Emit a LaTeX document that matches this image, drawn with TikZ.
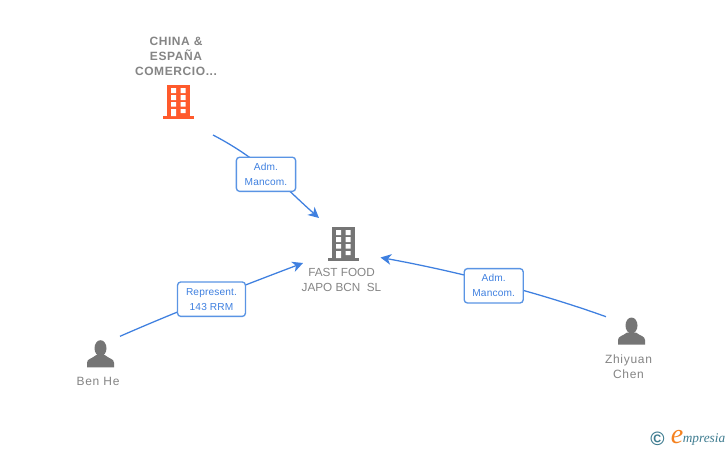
\documentclass[tikz,border=0pt]{standalone}
\usepackage{fontspec}
\setmainfont{Liberation Sans}
\newfontfamily\logofont{Liberation Serif}
\usetikzlibrary{arrows.meta}
\definecolor{linkblue}{HTML}{3F80E0}
\definecolor{boxblue}{HTML}{5A94E4}
\definecolor{labelblue}{HTML}{3F80E0}
\definecolor{iconcol}{HTML}{757575}
\definecolor{namecol}{HTML}{858585}
\definecolor{orangecol}{HTML}{FF5A2C}
\definecolor{teal}{HTML}{3E7C90}
\definecolor{logoorange}{HTML}{F58220}
\tikzset{
  link/.style={draw=linkblue,line width=0.95pt},
  linkarrow/.style={link,-{Stealth[length=8pt,width=8pt,inset=2.4pt]}},
  rolebox/.style={draw=boxblue,line width=1pt,fill=white,rounded corners=2.4pt,inner sep=0pt,
    align=center,text=labelblue,font=\fontsize{7.6}{11.25}\selectfont\addfontfeature{LetterSpace=1.5}},
  entname/.style={align=center,inner sep=0pt,text=namecol,font=\fontsize{9}{11.25}\selectfont},
  entspaced/.style={entname,font=\fontsize{9}{11.25}\selectfont\addfontfeature{LetterSpace=6}},
  entbold/.style={entname,font=\bfseries\fontsize{9}{11.25}\selectfont\addfontfeature{LetterSpace=5}},
}
\newcommand{\buildingicon}[3]{%
  \begin{scope}[shift={(#1,#2)}]
    \fill[#3] (0,0) rectangle (23,31);
    \fill[#3] (-4,31) rectangle (27,33.5);
    \fill[white] (4,3) rectangle (9,8) (13.5,3) rectangle (18.5,8)
      (4,10) rectangle (9,15) (13.5,10) rectangle (18.5,15)
      (4,17) rectangle (9,21.5) (13.5,17) rectangle (18.5,21.5)
      (4,24) rectangle (9,31) (13.5,24) rectangle (18.5,28);
  \end{scope}}
\newcommand{\personicon}[2]{%
  \begin{scope}[shift={(#1,#2)}]
    \fill[iconcol] (13.5,7.5) ellipse (6 and 8);
    \fill[iconcol] (0,26.7) -- (0,22) .. controls (0,18) and (5,18) .. (9,14.5) -- (18,14.5)
      .. controls (22,18) and (27,18) .. (27,22) -- (27,26.7) -- cycle;
  \end{scope}}
\begin{document}
\begin{tikzpicture}[x=0.75pt,y=-0.75pt]
\useasboundingbox (0,0) rectangle (728,450);
\fill[white] (0,0) rectangle (728,450);
% icons
\buildingicon{167}{85}{orangecol}
\buildingicon{332}{227}{iconcol}
\personicon{87}{340.7}
\personicon{618}{318}
% connector ends
\coordinate (c1s) at (213,135);
\coordinate (c1e) at (319,218);
\coordinate (c2s) at (120,336.3);
\coordinate (c2e) at (303,263);
\coordinate (c3s) at (606,316.7);
\coordinate (c3e) at (380.5,257.5);
% connectors
\draw[linkarrow] (c1s) .. controls (262,160.5) and (285,188) .. (c1e);
\draw[linkarrow] (c2s) .. controls (180,310) and (245,285) .. (c2e);
\draw[linkarrow] (c3s) .. controls (540,293) and (460,272) .. (c3e);
% role boxes
\node[rolebox,minimum width=44.4pt,minimum height=25.6pt] (box1) at (266,174.3) {Adm.\hspace{2.5pt}\\Mancom.};
\node[rolebox,minimum width=50.9pt,minimum height=25.8pt] (box2) at (211.5,299.2) {Represent.\\143 RRM};
\node[rolebox,minimum width=44.2pt,minimum height=25.8pt] (box3) at (493.7,285.8) {Adm.\hspace{2.5pt}\\Mancom.};
% names
\node[entbold] (china) at (176,56) {CHINA \&\\ESPAÑA\\COMERCIO...};
\node[entname,font=\fontsize{8.8}{11.25}\selectfont] (fastfood) at (341.5,279.5) {FAST FOOD\\JAPO BCN\ \ SL};
\node[entspaced] (benhe) at (98,381.5) {Ben He};
\node[entspaced] (zhiyuan) at (628.5,366.5) {Zhiyuan\\Chen};
% logo
\node[inner sep=0pt,text=teal,font=\bfseries\fontsize{14.5}{14.5}\selectfont] (copyr) at (657.5,438.5) {©};
\node[inner sep=0pt,text=logoorange,font=\logofont\itshape\fontsize{21}{21}\selectfont] (logoe) at (677,437.5) {e};
\node[inner sep=0pt,anchor=west,text=teal,font=\logofont\itshape\fontsize{10}{12}\selectfont] (logot) at (682.5,439) {mpresia};
\end{tikzpicture}
\end{document}
